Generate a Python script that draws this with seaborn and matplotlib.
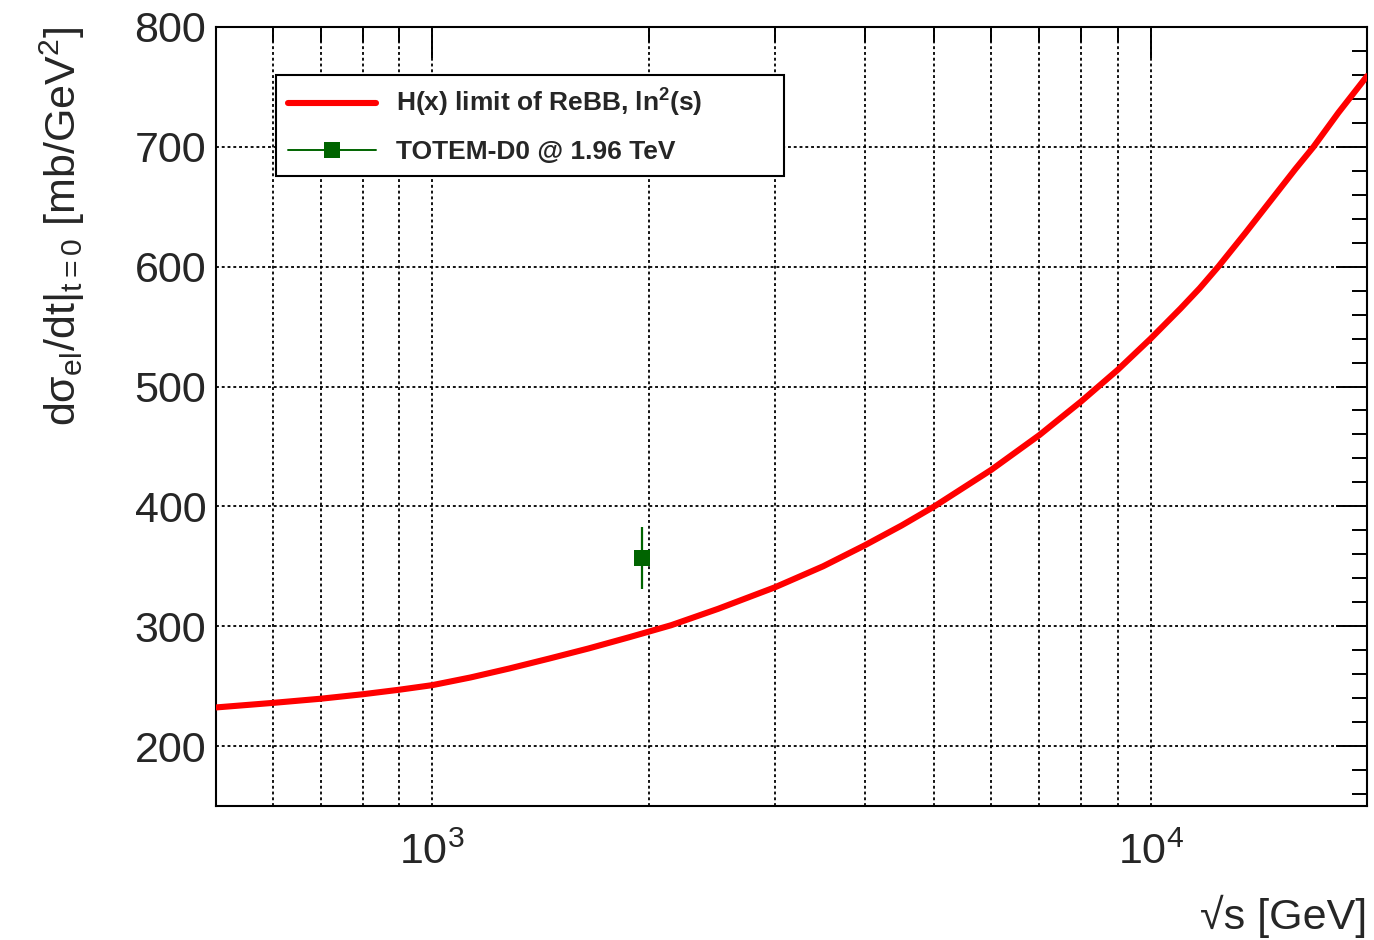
import numpy as np
import pandas as pd
import matplotlib
matplotlib.use("Agg")
import matplotlib.pyplot as plt
from matplotlib.lines import Line2D
from matplotlib.ticker import LogLocator, NullFormatter, FixedLocator, MultipleLocator
import seaborn as sns

# H(x) limit of ReBB with ln^2(s) growth: dsigma_el/dt at t=0 vs sqrt(s)
sqrt_s_gev = [500, 600, 700, 800, 900, 1000, 1130, 1280, 1455, 1650, 1880, 2000,
              2150, 2500, 3000, 3500, 4000, 4500, 5000, 6000, 7000, 8000, 9000,
              10000, 11000, 11700, 12430, 13540, 14750, 15900, 16850, 18250, 20000]
dsigma_dt = [232.2, 236.0, 239.5, 243.2, 247.0, 250.8, 257.2, 264.7, 273.0, 281.4, 290.8, 295.4,
             300.8, 314.5, 332.5, 350.0, 367.5, 384.0, 400.0, 430.5, 459.5, 487.5, 514.0,
             540.0, 565.0, 582.0, 600.3, 628.0, 656.5, 681.5, 700.0, 728.5, 759.0]

# TOTEM-D0 measurement at 1.96 TeV
meas_sqrt_s = [1960]
meas_value = [357.0]
meas_err = [26.0]

curve_label = "H(x) limit of ReBB, ln$^{\\mathregular{2}}$(s)"
meas_label = "TOTEM-D0 @ 1.96 TeV"
x_tick_values = [1000, 10000]
x_tick_labels = ["$\\mathregular{10^{3}}$", "$\\mathregular{10^{4}}$"]
y_tick_values = [200, 300, 400, 500, 600, 700, 800]

sns.set_style("white")
plt.rcParams["font.family"] = ["Liberation Sans", "DejaVu Sans"]
plt.rcParams["mathtext.fontset"] = "custom"
plt.rcParams["mathtext.rm"] = "Liberation Sans"
plt.rcParams["mathtext.it"] = "Liberation Sans:italic"
plt.rcParams["mathtext.bf"] = "Liberation Sans:bold"

fig = plt.figure(figsize=(13.74, 9.40), dpi=100)
ax = fig.add_axes([0.1572, 0.1426, 0.8377, 0.8287])

curve_df = pd.DataFrame({"sqrt_s": sqrt_s_gev, "dsdt": dsigma_dt})
sns.lineplot(data=curve_df, x="sqrt_s", y="dsdt", ax=ax, color="#ff0000",
             linewidth=4.4, sort=True, zorder=5, legend=False)

green = "#006400"
ax.errorbar(meas_sqrt_s, meas_value, yerr=meas_err, fmt="none",
            ecolor=green, elinewidth=1.6, capsize=0, zorder=6)
sns.scatterplot(x=meas_sqrt_s, y=meas_value, ax=ax, marker="s", s=130,
                color=green, edgecolor=green, linewidth=0, zorder=7, legend=False)

ax.set_xscale("log")
ax.set_xlim(500, 20000)
ax.set_ylim(150, 800)

# ticks: inside, on all four sides
ax.xaxis.set_major_locator(FixedLocator(x_tick_values))
ax.set_xticklabels(x_tick_labels)
ax.xaxis.set_minor_locator(LogLocator(base=10, subs=np.arange(2, 10)))
ax.xaxis.set_minor_formatter(NullFormatter())
ax.yaxis.set_major_locator(FixedLocator(y_tick_values))
ax.yaxis.set_minor_locator(MultipleLocator(20))

ax.tick_params(which="both", direction="in", top=True, right=True,
               color="black", width=1.4)
ax.tick_params(which="major", length=22)
ax.tick_params(which="minor", length=11)
ax.tick_params(axis="y", which="major", labelsize=31, pad=7)
ax.tick_params(axis="x", which="major", labelsize=31, pad=19)

for sp in ax.spines.values():
    sp.set_color("black")
    sp.set_linewidth(1.5)

# dotted grid on every x tick and the major y ticks
grid_kw = dict(color="black", linewidth=1.3, linestyle=(0, (1.6, 1.6)))
ax.grid(True, which="both", axis="x", **grid_kw)
ax.grid(True, which="major", axis="y", **grid_kw)
ax.set_axisbelow(False)

ax.set_xlabel("\u221as [GeV]", fontsize=31, loc="right", labelpad=16)
ax.set_ylabel("d\u03c3$_{\\mathregular{el}}$/dt|$_{\\mathregular{t{=}0}}$ [mb/GeV$^{\\mathregular{2}}$]",
              fontsize=31, loc="top", labelpad=34)

handles = [
    Line2D([], [], color="#ff0000", linewidth=4.4),
    Line2D([], [], color=green, linewidth=1.4, marker="s", markersize=12,
           markeredgewidth=0),
]
leg = ax.legend(handles, [curve_label, meas_label], loc="upper left",
                bbox_to_anchor=(0.052, 0.81, 0.4414, 0.128), mode="expand",
                prop={"weight": "bold", "size": 19},
                frameon=True, fancybox=False, shadow=False,
                handlelength=3.33, handletextpad=0.76, borderpad=0.45,
                labelspacing=0.79, borderaxespad=0)
leg.get_frame().set_edgecolor("black")
leg.get_frame().set_linewidth(1.5)
leg.get_frame().set_alpha(1)
leg.set_zorder(10)

fig.savefig("out.png", dpi=100, facecolor="white")
